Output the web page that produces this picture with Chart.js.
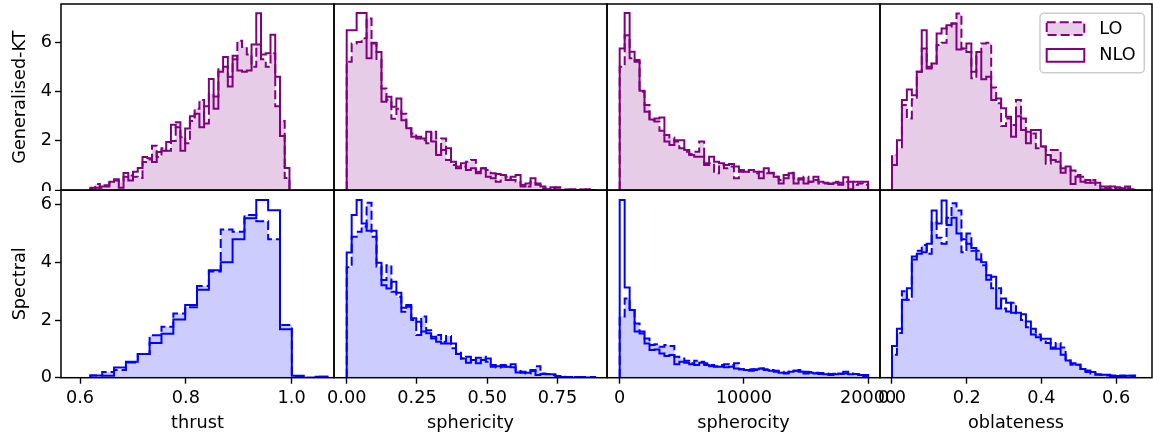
<!DOCTYPE html>
<html><head><meta charset="utf-8">
<script src="https://cdn.jsdelivr.net/npm/chart.js@4.4.1/dist/chart.umd.min.js"></script>
<style>
html,body{margin:0;padding:0;background:#fff;}
#fig{position:relative;width:1153px;height:435px;overflow:hidden;background:#fff;}
canvas{position:absolute;}
</style></head><body><div id="fig"></div>
<script>
// ---------------- DATA ----------------
const rowTitles = ['Generalised-KT', 'Spectral'];
const varTitles = ['thrust', 'sphericity', 'spherocity', 'oblateness'];
const seriesNames = ['LO', 'NLO'];

// bin grids [first edge, bin width]
const thrustBinsKT = [0.6195, 0.00896];
const thrustBinsSpectral = [0.6195, 0.0224];
const sphericityBins = [0, 0.01768];
const spherocityBins = [0, 400];
const oblatenessBins = [0, 0.01328];

// Generalised-KT
const thrustKT_LO = [0.05,0.25,0.1,0.15,0.3,0.4,0.35,0.55,0.6,0.55,0.5,1.15,1.25,1.8,1.35,1.7,1.6,2.0,2.75,2.15,1.9,2.8,3.3,3.65,2.7,3.9,3.8,4.9,5.0,4.6,5.3,6.05,5.8,5.5,5.0,5.9,5.3,5.0,5.55,3.4,2.8,0.5];
const thrustKT_NLO = [0.1,0.1,0.15,0.2,0.35,0.45,0.1,0.7,0.4,0.75,0.9,1.35,1.3,1.15,1.55,1.6,1.95,2.65,2.55,1.6,2.5,3.0,3.1,2.55,3.4,4.5,3.3,4.8,5.4,4.2,5.45,4.85,4.8,4.85,5.9,7.17,5.5,5.55,6.3,4.6,2.2,0.9];
const sphericityKT_LO = [5.2,5.94,6.0,6.15,6.95,5.94,5.27,4.12,3.65,2.9,3.3,3.1,2.51,2.3,2.1,2.03,1.9,2.37,1.56,2.1,1.23,1.02,0.96,0.96,1.16,1.23,0.75,0.89,0.82,0.69,0.35,0.62,0.55,0.42,0.35,0.22,0.15,0.35,0.22,0.08,0.04,0.08,0.12,0.01,0.02,0.02,0.01,0.02,0.01,0.01];
const sphericityKT_NLO = [6.48,6.48,7.18,7.18,5.34,5.97,5.6,3.58,3.79,3.38,3.72,2.84,2.51,2.17,2.17,2.1,2.37,1.97,1.43,1.63,1.7,1.16,0.89,1.09,0.82,0.89,0.69,0.89,0.55,0.49,0.66,0.62,0.42,0.55,0.62,0.15,0.28,0.49,0.28,0.15,0.04,0.12,0.04,0.01,0.03,0.04,0.01,0.03,0.04,0.01];
const spherocityKT_LO = [5.0,6.28,5.34,5.2,3.99,3.45,2.84,2.78,2.41,2.24,2.14,1.97,1.7,1.56,1.47,1.56,1.97,1.09,1.09,0.69,1.02,0.89,0.96,0.49,0.82,0.75,0.82,0.69,0.75,0.69,0.69,0.55,0.42,0.49,0.71,0.49,0.44,0.55,0.35,0.42,0.28,0.28,0.28,0.35,0.31,0.35,0.35,0.22,0.28,0.22];
const spherocityKT_NLO = [5.74,7.18,5.61,5.27,4.03,3.18,2.87,2.91,2.95,1.97,1.83,2.03,2.03,1.63,1.43,1.36,1.36,1.02,1.36,1.16,1.09,1.02,1.06,0.96,0.75,0.75,0.82,0.75,0.49,0.89,0.71,0.55,0.28,0.62,0.69,0.28,0.49,0.28,0.35,0.55,0.35,0.31,0.26,0.31,0.22,0.53,0.04,0.35,0.35,0.35];
const oblatenessKT_LO = [1.43,1.7,3.45,2.91,3.68,4.8,5.74,5.0,5.13,5.88,5.97,6.62,6.75,7.16,5.74,5.6,4.53,5.6,5.94,5.97,4.16,3.52,2.6,2.91,2.64,3.65,2.91,2.37,2.3,1.7,1.77,1.07,1.63,1.63,0.89,0.89,0.8,0.62,0.55,0.31,0.42,0.22,0.04,0.15,0.04,0.12,0.08,0.08,0.04];
const oblatenessKT_NLO = [1.02,2.03,3.65,4.08,3.85,4.8,6.48,4.93,5.13,6.35,6.55,6.68,6.75,5.7,5.74,5.94,4.8,5.6,4.49,4.6,3.65,3.72,3.32,2.98,2.17,3.0,2.44,1.9,2.44,2.44,1.77,1.43,1.23,1.16,0.71,0.96,0.26,0.55,0.35,0.42,0.31,0.31,0.15,0.08,0.15,0.04,0.08,0.15,0.01];

// Spectral
const thrustSp_LO = [0.08,0.2,0.27,0.53,0.82,1.47,1.77,2.23,2.44,3.18,3.68,5.14,5.06,5.64,5.43,4.8,1.83,0.05,0,0.03];
const thrustSp_NLO = [0.08,0.07,0.35,0.55,0.82,1.2,1.52,2.02,2.52,3.05,3.73,4.0,4.8,5.53,6.16,5.81,1.68,0.07,0,0.03];
const sphericitySp_LO = [3.83,4.89,5.06,5.24,6.07,4.89,3.85,3.39,3.9,2.98,2.81,2.29,2.46,2.0,1.48,2.12,1.65,1.36,1.48,1.25,1.45,1.02,0.9,0.67,0.73,0.61,0.69,0.73,0.55,0.44,0.35,0.38,0.4,0.36,0.27,0.17,0.15,0.23,0.4,0.15,0.13,0.09,0.06,0.03,0.02,0.02,0.02,0.02,0.02,0.02];
const sphericitySp_NLO = [4.34,5.64,6.16,5.35,5.1,5.1,3.99,3.21,3.09,3.33,2.95,2.43,2.52,2.06,1.94,1.6,1.54,1.42,1.25,1.19,1.19,1.19,0.82,0.67,0.52,0.61,0.5,0.61,0.67,0.38,0.4,0.44,0.38,0.47,0.18,0.21,0.17,0.27,0.09,0.13,0.12,0.12,0.03,0.02,0.02,0.01,0.02,0.01,0.01,0.01];
const spherocitySp_LO = [2.12,2.75,2.35,1.88,1.53,1.36,1.13,1.16,1.07,1.13,1.1,0.73,0.67,0.59,0.5,0.59,0.55,0.5,0.44,0.4,0.44,0.47,0.44,0.5,0.29,0.27,0.29,0.27,0.32,0.29,0.27,0.24,0.21,0.17,0.21,0.24,0.27,0.21,0.2,0.17,0.16,0.15,0.13,0.14,0.13,0.15,0.15,0.13,0.12,0.09];
const spherocitySp_NLO = [6.16,3.13,2.35,1.6,1.6,1.19,0.96,0.98,0.84,0.75,0.79,0.47,0.55,0.52,0.47,0.44,0.52,0.44,0.4,0.38,0.38,0.36,0.38,0.32,0.29,0.27,0.24,0.29,0.32,0.27,0.24,0.21,0.17,0.15,0.21,0.24,0.21,0.15,0.17,0.15,0.13,0.12,0.09,0.12,0.15,0.21,0.12,0.13,0.09,0.06];
const oblatenessSp_LO = [0.8,1.55,3.0,2.7,4.1,4.4,4.6,4.3,5.4,4.85,4.65,5.55,6.05,5.8,4.35,5.0,4.4,4.4,3.9,3.55,3.1,3.1,2.4,2.3,2.6,2.2,2.0,1.75,1.7,1.5,1.3,1.2,1.05,1.2,1.05,0.6,0.45,0.45,0.3,0.2,0.15,0.1,0.1,0.08,0.06,0.05,0.05,0.04,0.06];
const oblatenessSp_NLO = [1.1,1.7,2.7,3.1,4.2,4.3,4.35,4.65,5.8,5.35,6.15,5.3,5.55,5.0,4.8,4.65,4.5,4.1,4.0,3.4,3.5,2.4,2.75,2.6,2.25,2.25,2.2,1.95,1.5,1.4,1.35,1.35,1.0,1.0,0.8,0.6,0.5,0.45,0.3,0.25,0.2,0.12,0.1,0.1,0.08,0.06,0.08,0.07,0.08];

// axis limits and ticks
const thrustLimits = [0.564, 1.080];
const sphericityLimits = [-0.0452, 0.9263];
const spherocityLimits = [-1022, 20958];
const oblatenessLimits = [-0.0321, 0.6961];
const yLimitsKT = [0, 7.54];
const yLimitsSpectral = [0, 6.51];
const thrustTicks = [0.6, 0.8, 1.0];
const thrustTickLabels = ['0.6', '0.8', '1.0'];
const sphericityTicks = [0, 0.25, 0.5, 0.75];
const sphericityTickLabels = ['0.00', '0.25', '0.50', '0.75'];
const spherocityTicks = [0, 10000, 20000];
const spherocityTickLabels = ['0', '10000', '20000'];
const oblatenessTicks = [0, 0.2, 0.4, 0.6];
const oblatenessTickLabels = ['0.0', '0.2', '0.4', '0.6'];
const yTicks = [0, 2, 4, 6];
const yTickLabels = ['0', '2', '4', '6'];

// ---------------- ASSEMBLY ----------------
const columns = [
  {lim: thrustLimits, ticks: thrustTicks, labels: thrustTickLabels,
   rows: [{bins: thrustBinsKT, lo: thrustKT_LO, nlo: thrustKT_NLO}, {bins: thrustBinsSpectral, lo: thrustSp_LO, nlo: thrustSp_NLO}]},
  {lim: sphericityLimits, ticks: sphericityTicks, labels: sphericityTickLabels,
   rows: [{bins: sphericityBins, lo: sphericityKT_LO, nlo: sphericityKT_NLO}, {bins: sphericityBins, lo: sphericitySp_LO, nlo: sphericitySp_NLO}]},
  {lim: spherocityLimits, ticks: spherocityTicks, labels: spherocityTickLabels,
   rows: [{bins: spherocityBins, lo: spherocityKT_LO, nlo: spherocityKT_NLO}, {bins: spherocityBins, lo: spherocitySp_LO, nlo: spherocitySp_NLO}]},
  {lim: oblatenessLimits, ticks: oblatenessTicks, labels: oblatenessTickLabels,
   rows: [{bins: oblatenessBins, lo: oblatenessKT_LO, nlo: oblatenessKT_NLO}, {bins: oblatenessBins, lo: oblatenessSp_LO, nlo: oblatenessSp_NLO}]}
];
const rowYLimits = [yLimitsKT, yLimitsSpectral];
const rowColors = [{line: '#800080', fill: 'rgba(128,0,128,0.2)'}, {line: '#0000ff', fill: 'rgba(0,0,255,0.2)'}];

function stepPoints(bins, vals) {
  const start = bins[0], w = bins[1];
  const pts = [{x: start, y: 0}];
  vals.forEach((v, i) => pts.push({x: start + w * i, y: v}));
  pts.push({x: start + w * vals.length, y: 0});
  return pts;
}

// layout (pixels)
const colL = [61, 334, 607, 880], colR = [334, 607, 880, 1152];
const rowTop = [4, 190], rowBottom = [190.3, 377.7];
const FONT = "'DejaVu Sans', 'Liberation Sans', sans-serif";
const FS = 17.7;

Chart.defaults.font.family = FONT;
Chart.defaults.font.size = FS;
Chart.defaults.color = '#000';

const framePlugin = {
  id: 'frame',
  afterDraw(chart) {
    const {ctx, chartArea: a} = chart;
    ctx.save();
    ctx.strokeStyle = '#000';
    ctx.lineWidth = 1.5;
    ctx.strokeRect(a.left, a.top, a.right - a.left, a.bottom - a.top);
    ctx.restore();
  }
};

const legendPlugin = {
  id: 'mplLegend',
  afterDraw(chart) {
    const o = chart.options.plugins.mplLegend;
    if (!o || !o.show) return;
    const {ctx, chartArea: a} = chart;
    const bw = 104.3, bh = 59.4;
    const bx = a.right - 7.7 - bw, by = a.top + 9.3;
    ctx.save();
    ctx.beginPath();
    if (ctx.roundRect) ctx.roundRect(bx, by, bw, bh, 4); else ctx.rect(bx, by, bw, bh);
    ctx.fillStyle = 'rgba(255,255,255,0.8)';
    ctx.fill();
    ctx.strokeStyle = '#cccccc';
    ctx.lineWidth = 1.5;
    ctx.stroke();
    const entries = chart.data.datasets.slice().reverse();
    entries.forEach((ds, i) => {
      const px = bx + 6.7, py = by + 9 + i * 26.7, pw = 37.6, ph = 12.7;
      ctx.beginPath();
      ctx.rect(px, py, pw, ph);
      if (ds.fill) { ctx.fillStyle = ds.backgroundColor; ctx.fill(); }
      ctx.setLineDash(ds.borderDash || []);
      ctx.strokeStyle = ds.borderColor;
      ctx.lineWidth = 2;
      ctx.stroke();
      ctx.setLineDash([]);
      ctx.fillStyle = '#000';
      ctx.font = FS + 'px ' + FONT;
      ctx.textBaseline = 'middle';
      ctx.textAlign = 'left';
      ctx.fillText(ds.label, bx + 59.3, py + ph / 2 + 0.5);
    });
    ctx.restore();
  }
};

const fig = document.getElementById('fig');

for (let r = 0; r < 2; r++) {
  for (let c = 0; c < 4; c++) {
    const col = columns[c];
    const d = col.rows[r];
    const extL = c === 0 ? 61 : 40;
    const extR = c === 3 ? 1 : 40;
    const left = colL[c] - extL;
    const width = (colR[c] - colL[c]) + extL + extR;
    let top, height, padTop, padBottom, xAxisH;
    if (r === 0) { top = 0; height = 191; padTop = rowTop[0]; padBottom = 191 - rowBottom[0]; xAxisH = 0; }
    else { top = 182; height = 253; padTop = rowTop[1] - 182; padBottom = 0; xAxisH = 435 - rowBottom[1]; }

    const cv = document.createElement('canvas');
    cv.width = width; cv.height = height;
    cv.style.left = left + 'px'; cv.style.top = top + 'px';
    cv.style.width = width + 'px'; cv.style.height = height + 'px';
    fig.appendChild(cv);

    const colors = rowColors[r];
    const showY = c === 0;
    const showX = r === 1;
    const yAxisW = showY ? 61 : 0;

    new Chart(cv, {
      type: 'line',
      data: {
        datasets: [
          {label: seriesNames[1], data: stepPoints(d.bins, d.nlo), borderColor: colors.line,
           backgroundColor: 'rgba(0,0,0,0)', borderWidth: 2, fill: false, stepped: 'before',
           pointRadius: 0, borderDash: [], borderJoinStyle: 'miter', borderCapStyle: 'butt'},
          {label: seriesNames[0], data: stepPoints(d.bins, d.lo), borderColor: colors.line,
           backgroundColor: colors.fill, borderWidth: 2, fill: 'origin', stepped: 'before',
           pointRadius: 0, borderDash: [9, 4], borderJoinStyle: 'miter', borderCapStyle: 'butt'}
        ]
      },
      options: {
        responsive: false, animation: false, devicePixelRatio: 1, events: [],
        layout: {autoPadding: false, padding: {left: showY ? 0 : extL, right: extR, top: padTop, bottom: padBottom}},
        plugins: {legend: {display: false}, tooltip: {enabled: false},
                  mplLegend: {show: r === 0 && c === 3}},
        scales: {
          x: {
            type: 'linear', display: showX, min: col.lim[0], max: col.lim[1],
            grid: {display: true, drawOnChartArea: false, drawTicks: true, tickLength: 6, tickWidth: 1.4, tickColor: '#000'},
            border: {display: false},
            ticks: {padding: 4, color: '#000', maxRotation: 0, autoSkip: false,
                    callback: (v) => { const k = col.ticks.indexOf(v); return k >= 0 ? col.labels[k] : ''; }},
            afterBuildTicks: (s) => { s.ticks = col.ticks.map(v => ({value: v})); },
            afterFit: (s) => { s.height = xAxisH; s.paddingLeft = 0; s.paddingRight = 0; s.paddingTop = 0; s.paddingBottom = 0; },
            title: {display: showX, text: varTitles[c], color: '#000', padding: {top: 0, bottom: 0.6}}
          },
          y: {
            type: 'linear', display: showY, min: rowYLimits[r][0], max: rowYLimits[r][1],
            grid: {display: true, drawOnChartArea: false, drawTicks: true, tickLength: 6, tickWidth: 1.4, tickColor: '#000'},
            border: {display: false},
            ticks: {padding: 3, color: '#000', autoSkip: false,
                    callback: (v) => { const k = yTicks.indexOf(v); return k >= 0 ? yTickLabels[k] : ''; }},
            afterBuildTicks: (s) => { s.ticks = yTicks.map(v => ({value: v})); },
            afterFit: (s) => { s.width = yAxisW; s.paddingLeft = 0; s.paddingRight = 0; s.paddingTop = 0; s.paddingBottom = 0; },
            title: {display: showY, text: rowTitles[r], color: '#000', padding: {top: 10, bottom: 0}}
          }
        }
      },
      plugins: [framePlugin, legendPlugin]
    });
  }
}
</script>
</body></html>
